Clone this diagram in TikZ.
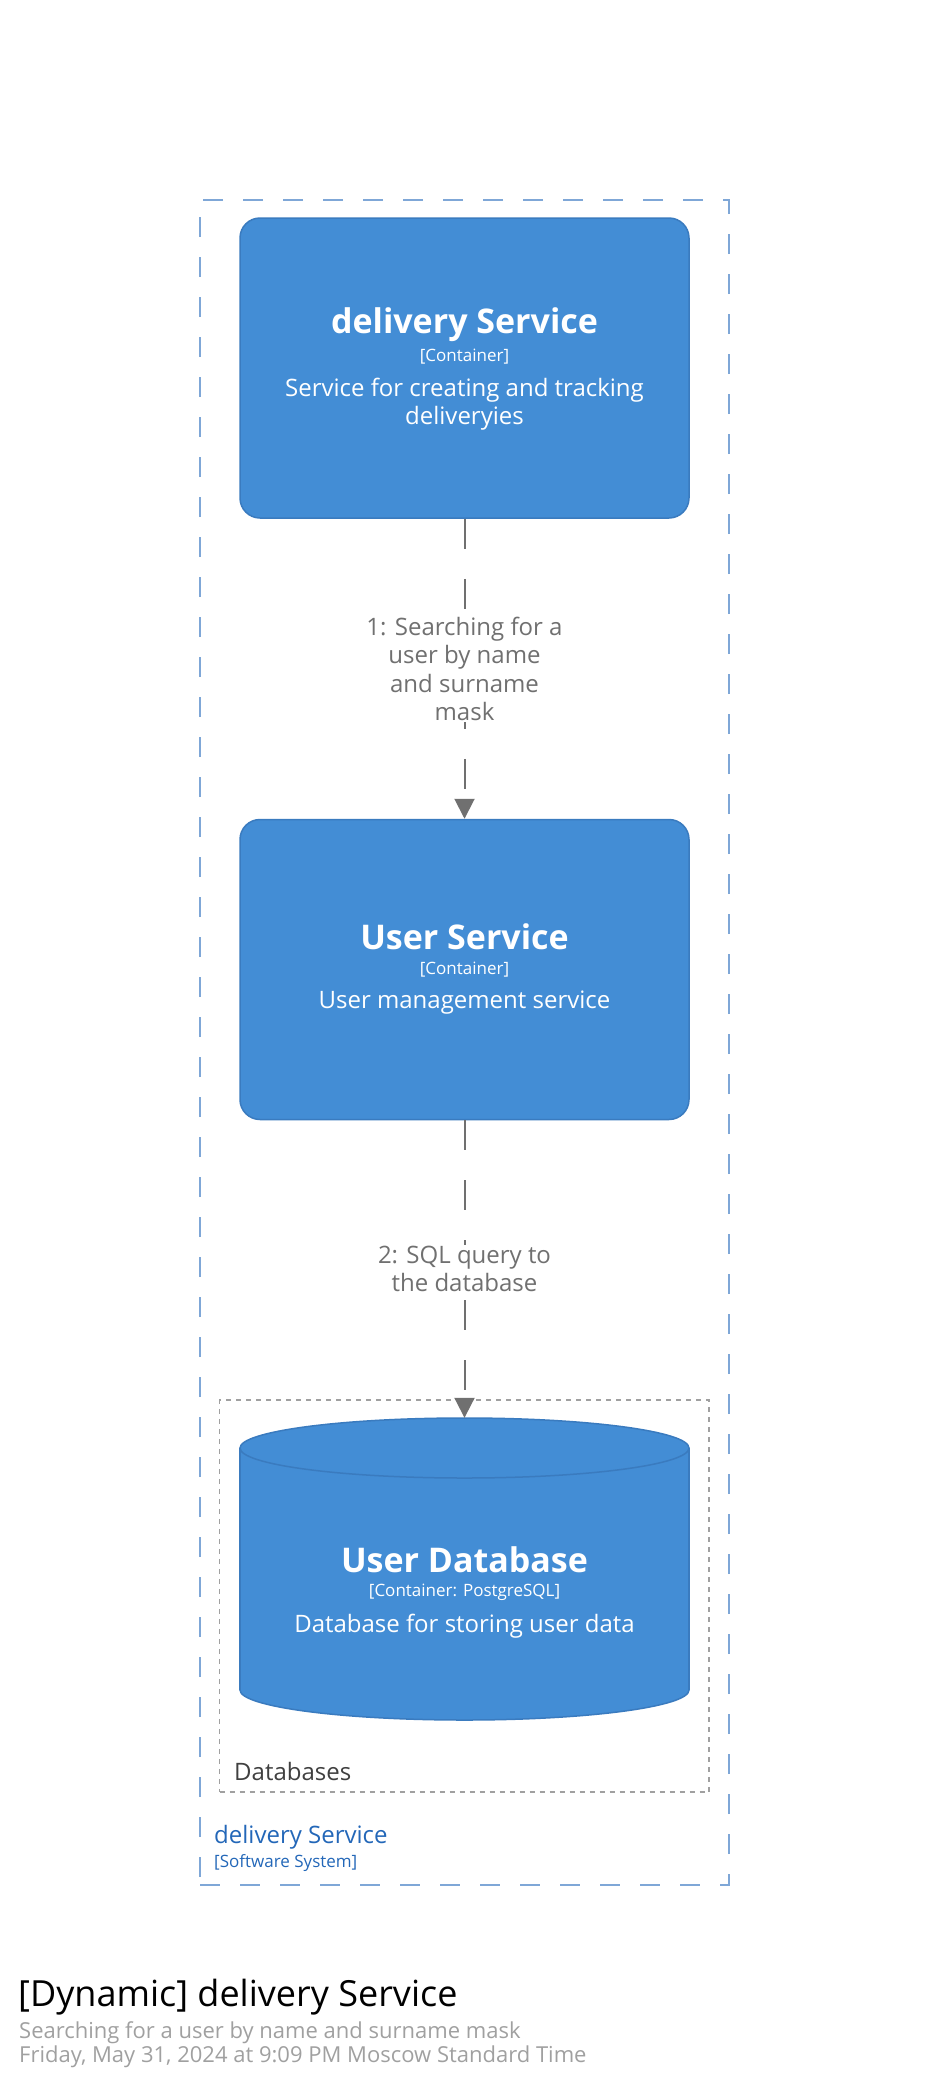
\documentclass[tikz,border=0pt]{standalone}
\usepackage{fontspec}
\setmainfont{Open Sans}
\usetikzlibrary{arrows.meta, positioning}
\definecolor{container}{HTML}{438DD5}
\definecolor{containerline}{HTML}{3A7BBF}
\definecolor{boundary}{HTML}{7FA7D7}
\definecolor{boundarytext}{HTML}{2367B8}
\definecolor{relation}{HTML}{707070}
\definecolor{meta}{HTML}{A0A0A0}

\tikzset{
  box/.style={draw=containerline, line width=1.5pt, fill=container,
    rounded corners=20pt, minimum width=449pt, minimum height=300pt, inner sep=0pt},
  elname/.style={text=white, font=\fontsize{34}{40}\selectfont\bfseries, inner sep=0pt},
  eltech/.style={text=white, font=\fontsize{17}{20}\selectfont, inner sep=0pt},
  eldescr/.style={text=white, align=center, font=\fontsize{24}{28}\selectfont, inner sep=0pt},
  rel/.style={draw=relation, line width=2pt, dash pattern=on 30pt off 30pt,
    -{Triangle[length=20pt, width=20pt]}},
  rellabel/.style={fill=white, text=relation, align=center,
    font=\fontsize{24}{28.5}\selectfont, inner sep=1pt}
}

\begin{document}
\begin{tikzpicture}[x=1pt, y=-1pt]
  \useasboundingbox (0,0) rectangle (930,2085);

  % software system boundary
  \node[draw=boundary, line width=2pt, dash pattern=on 20pt off 20pt,
        minimum width=529pt, minimum height=1685pt] (system) at (464.5,1042.5) {};
  \node[anchor=west, text=boundarytext, font=\fontsize{24}{28}\selectfont, inner sep=0pt]
        (systemname) at (214,1837) {delivery Service};
  \node[anchor=west, text=boundarytext, font=\fontsize{17}{20}\selectfont, inner sep=0pt]
        (systemtype) at (214,1863) {[Software System]};

  % databases group
  \node[draw=meta, line width=1.3pt, dash pattern=on 5pt off 5pt,
        minimum width=489.5pt, minimum height=392pt] (dbgroup) at (464.25,1596) {};
  \node[anchor=west, text=black!75, font=\fontsize{24}{28}\selectfont, inner sep=0pt]
        (dbgroupname) at (234,1771) {Databases};

  % containers
  \node[box] (delivery) at (464.5,368) {};
  \node[elname]  (deliveryname) at (464.5,325) {delivery Service};
  \node[eltech]  (deliverytech) at (464.5,357) {[Container]};
  \node[eldescr] (deliverydescr) at (464.5,404) {Service for creating and tracking\\deliveryies};

  \node[box] (usersvc) at (464.5,969.5) {};
  \node[elname]  (usersvcname) at (464.5,937) {User Service};
  \node[eltech]  (usersvctech) at (464.5,970) {[Container]};
  \node[eldescr] (usersvcdescr) at (464.5,1003) {User management service};

  % database cylinder
  \node[minimum width=449pt, minimum height=302pt, inner sep=0pt] (userdb) at (464.5,1569) {};
  \fill[container] (240,1448) rectangle (689,1690);
  \fill[container] (464.5,1690) ellipse [x radius=224.5pt, y radius=30pt];
  \begin{scope}
    \clip (230,1690) rectangle (700,1730);
    \draw[containerline, line width=1.5pt] (464.5,1690) ellipse [x radius=224.5pt, y radius=30pt];
  \end{scope}
  \draw[containerline, line width=1.5pt] (240,1448) -- (240,1690) (689,1448) -- (689,1690);
  \draw[containerline, line width=1.5pt, fill=container]
    (464.5,1448) ellipse [x radius=224.5pt, y radius=30pt];
  \node[elname]  (userdbname) at (464.5,1560) {User Database};
  \node[eltech]  (userdbtech) at (464.5,1592) {[Container: PostgreSQL]};
  \node[eldescr] (userdbdescr) at (464.5,1626) {Database for storing user data};

  % relationships
  \draw[rel] (delivery) -- (usersvc)
    node[midway, rellabel] {1: Searching for a\\user by name\\and surname\\mask};
  \draw[rel] (usersvc) -- (userdb)
    node[midway, rellabel] {2: SQL query to\\the database};

  % title
  \node[anchor=west, font=\fontsize{36}{42}\selectfont, inner sep=0pt]
        (title) at (18,1997) {[Dynamic] delivery Service};
  \node[anchor=west, text=meta, font=\fontsize{22}{26}\selectfont, inner sep=0pt]
        (subtitle) at (19,2033) {Searching for a user by name and surname mask};
  \node[anchor=west, text=meta, font=\fontsize{22}{26}\selectfont, inner sep=0pt]
        (date) at (19,2057) {Friday, May 31, 2024 at 9:09 PM Moscow Standard Time};
\end{tikzpicture}
\end{document}
